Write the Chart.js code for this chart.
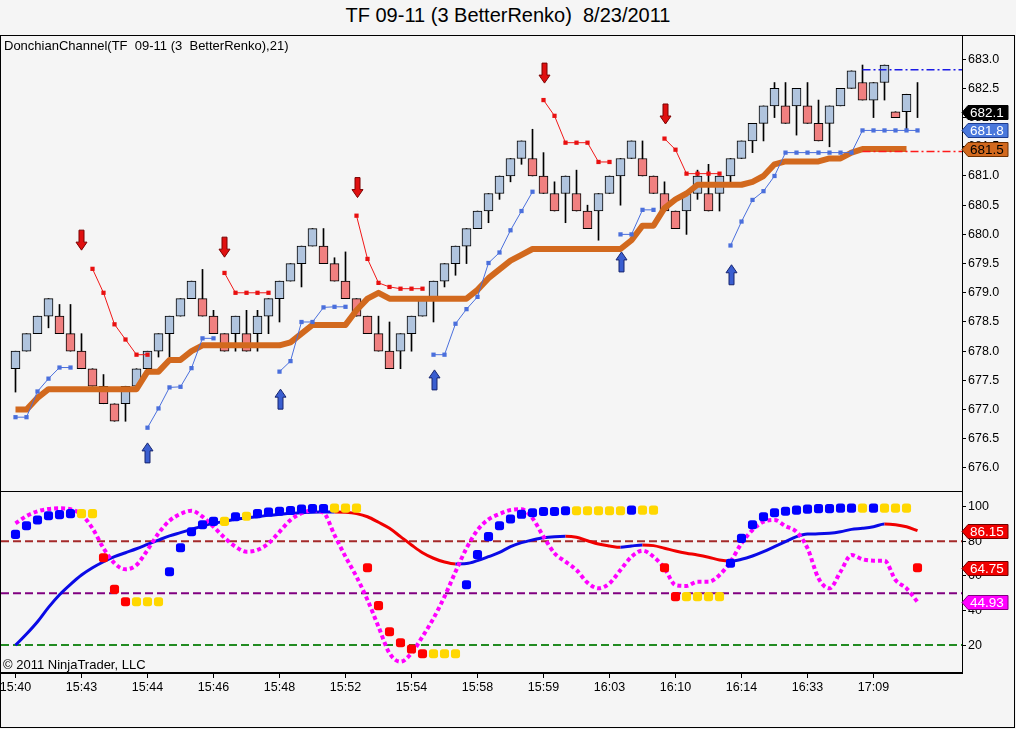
<!DOCTYPE html>
<html>
<head>
<meta charset="utf-8">
<script src="https://cdn.jsdelivr.net/npm/chart.js@4.4.1/dist/chart.umd.min.js"></script>
<style>
body { margin:0; background:#f5f5f5; width:1016px; height:729px; overflow:hidden; font-family:"Liberation Sans", Arial, sans-serif; }
#title { position:absolute; left:0; top:4px; width:1016px; text-align:center; font-size:20px; line-height:23px; white-space:pre; color:#000; }
#frame { position:absolute; left:0; top:35px; width:1015px; height:693px; box-sizing:border-box; border:1px solid #000; }
#upper { position:absolute; left:0; top:35px; }
#lower { position:absolute; left:0; top:492px; }
</style>
</head>
<body>
<div id="title">TF 09-11 (3 BetterRenko)  8/23/2011</div>
<div id="frame"></div>
<canvas id="upper" width="1016" height="458"></canvas>
<canvas id="lower" width="1016" height="237"></canvas>
<script>
// Etiquetas del eje de tiempo (una cada 6 ladrillos)
const timeLabels = ['15:40','15:43','15:44','15:46','15:48','15:52','15:54','15:58','15:59','16:03','16:10','16:14','16:33','17:09'];
const labelBars = [0,6,12,18,24,30,36,42,48,54,60,66,72,78];
const priceTicks = [676,676.5,677,677.5,678,678.5,679,679.5,680,680.5,681,681.5,682,682.5,683];
const oscTicks = [20,40,60,80,100];

// Ladrillos renko
const opens = [677.7,678.0,678.3,678.6,678.6,678.3,678.0,677.7,677.4,677.1, 677.1,677.4,677.7,678.0,678.3,678.6,678.9,678.9,678.6,678.3,
  678.3,678.3,678.3,678.6,678.9,679.2,679.5,679.8,679.8,679.5, 679.2,678.9,678.6,678.3,678.0,678.0,678.3,678.6,678.9,679.2,
  679.5,679.8,680.1,680.4,680.7,681.0,681.3,681.3,681.0,680.7, 680.7,680.7,680.4,680.4,680.7,681.0,681.3,681.3,681.0,680.7,
  680.4,680.4,680.7,680.7,680.7,681.0,681.3,681.6,681.9,682.2, 682.2,682.2,682.2,681.9,681.9,682.2,682.5,682.6,682.3,682.6,
  682.1,682.1,682.1];
const closes = [678.0,678.3,678.6,678.9,678.3,678.0,677.7,677.4,677.1,676.8, 677.4,677.7,678.0,678.3,678.6,678.9,679.2,678.6,678.3,678.0,
  678.6,678.0,678.6,678.9,679.2,679.5,679.8,680.1,679.5,679.2, 678.9,678.6,678.3,678.0,677.7,678.3,678.6,678.9,679.2,679.5,
  679.8,680.1,680.4,680.7,681.0,681.3,681.6,681.0,680.7,680.4, 681.0,680.4,680.1,680.7,681.0,681.3,681.6,681.0,680.7,680.4,
  680.1,680.7,681.0,680.4,681.0,681.3,681.6,681.9,682.2,682.5, 681.9,682.5,681.9,681.6,682.2,682.5,682.8,682.3,682.6,682.9,
  682.0,682.4,682.1];
const highs = [678.0,678.3,678.6,678.9,678.8,678.8,678.3,677.7,677.6,677.1, 677.4,677.7,678.0,678.3,678.6,678.9,679.2,679.4,678.7,678.3,
  678.6,678.7,678.7,678.9,679.2,679.5,679.8,680.1,680.1,679.6, 679.7,678.9,678.6,678.6,678.5,678.3,678.6,678.9,679.2,679.5,
  679.8,680.1,680.4,680.7,681.0,681.3,681.6,681.8,681.4,680.9, 681.0,681.1,680.5,680.7,681.0,681.3,681.6,681.6,681.0,680.9,
  680.4,680.7,681.1,681.2,681.0,681.3,681.6,681.9,682.2,682.6, 682.6,682.5,682.6,682.3,682.2,682.5,682.8,682.9,682.6,682.9,
  682.1,682.4,682.6];
const lows = [677.3,678.0,678.3,678.4,678.3,678.0,677.7,677.4,677.1,676.8, 676.8,677.4,677.7,677.9,677.9,678.6,678.9,678.6,678.3,678.0,
  678.0,678.0,678.0,678.3,678.5,679.2,679.1,679.8,679.5,679.2, 678.9,678.6,678.3,678.0,677.7,677.7,678.0,678.6,678.5,679.1,
  679.3,679.5,680.1,680.2,680.6,680.9,681.2,681.0,680.7,680.4, 680.2,680.4,680.1,679.9,680.7,680.5,681.3,681.0,680.7,680.4,
  680.1,680.0,680.6,680.4,680.4,680.9,681.3,681.4,681.6,682.0, 681.9,681.7,681.9,681.6,681.5,682.2,682.5,682.3,682.0,682.3,
  682.0,681.8,682.0];

// Canal Donchian (media) y stops
const donchianMid = [677.0,677.0,677.2,677.35,677.35,677.35,677.35,677.35,677.35,677.35, 677.35,677.35,677.65,677.65,677.85,677.85,678.0,678.1,678.1,678.1,
  678.1,678.1,678.1,678.1,678.1,678.15,678.3,678.45,678.45,678.45, 678.45,678.7,678.9,679.0,678.9,678.9,678.9,678.9,678.9,678.9,
  678.9,678.9,679.05,679.25,679.4,679.55,679.65,679.75,679.75,679.75, 679.75,679.75,679.75,679.75,679.75,679.75,679.9,680.15,680.15,680.45,
  680.6,680.7,680.85,680.85,680.85,680.85,680.85,680.9,681.0,681.2, 681.25,681.25,681.25,681.25,681.3,681.3,681.4,681.46,681.46,681.46,
  681.46,681.46,null];
const blueStop = [676.87,676.87,677.31,677.53,677.72,677.72,null,null,null,null, null,null,676.69,677.02,677.38,677.39,677.71,678.22,678.22,null,
  null,null,null,null,677.65,677.83,678.5,678.5,678.75,678.76, 678.76,null,null,null,null,null,null,null,677.94,677.94,
  678.47,678.72,678.93,679.51,679.69,680.07,680.4,680.73,null,null, null,null,null,null,null,680.0,680.0,680.42,680.42,null,
  null,null,null,null,null,679.81,680.22,680.59,680.74,681.0, 681.4,681.4,681.4,681.4,681.4,681.4,681.4,681.78,681.78,681.78,
  681.78,681.78,681.78];
const redStop = [null,null,null,null,null,null,null,679.41,679.0,678.46, 678.2,677.94,677.94,null,null,null,null,null,null,679.34,
  679.0,679.0,679.0,679.0,null,null,null,null,null,null, null,680.32,679.58,679.17,679.1,679.07,679.07,679.07,null,null,
  null,null,null,null,null,null,null,null,682.3,682.03, 681.57,681.57,681.57,681.24,681.24,null,null,null,null,681.64,
  681.45,681.04,681.04,681.04,681.04,null,null,null,null,null, null,null,null,null,null,null,null,null,null,null,
  null,null,null];
const projStartBar = 77;
const hiLevel = 682.82;
const loLevel = 681.42;

// Flechas de señal
const downArrowBars = [6,19,31,48,59];
const downArrowTips = [679.73,679.61,680.63,682.59,681.89];
const upArrowBars = [12,24,38,55,65];
const upArrowTips = [676.43,677.35,677.68,679.7,679.48];

// Panel inferior
const oscLine = [20.0,26.4,33.5,41.8,49.1,55.1,60.5,64.7,68.2,71.1, 73.4,75.7,78.2,80.7,83.1,85.0,86.9,88.8,90.4,91.5,
  92.7,93.5,94.2,95.0,95.6,96.2,96.5,96.8,96.9,97.0, 96.8,96.0,94.2,91.0,87.5,82.7,77.9,73.4,70.2,68.0,
  66.9,67.1,68.8,71.1,73.6,76.9,79.2,80.8,82.1,82.7, 82.9,82.3,80.3,78.4,77.3,76.5,77.3,77.9,77.5,76.0,
  74.4,73.1,72.1,70.8,69.2,68.6,69.6,71.5,74.0,76.9, 79.8,82.7,84.2,84.3,84.6,85.5,86.9,87.5,88.4,90.0,
  89.6,88.4,86.15];
const magentaLine = [90.4,94.6,97.3,98.7,99.1,98.5,95.4,87.5,76.0,67.3, 63.8,66.3,75.0,84.6,91.9,95.8,97.7,94.2,88.4,82.1,
  76.9,74.0,75.0,78.8,85.5,92.3,96.2,97.7,96.5,83.6, 71.1,59.5,46.1,30.6,15.3,10.4,15.3,24.9,35.5,48.0,
  62.4,76.0,86.5,92.7,95.8,98.1,98.5,93.3,82.7,73.1, 68.2,63.4,56.1,52.8,55.7,63.4,71.1,74.6,71.1,64.4,
  54.7,54.2,56.6,56.6,60.5,68.2,78.8,86.5,91.3,92.3, 88.8,85.5,76.0,58.6,52.8,62.4,72.1,69.6,68.8,68.8,
  57.6,52.8,44.93];
const dotValues = [84.0,89.0,92.3,94.8,95.4,96.0,96.0,96.0,70.5,52.2, 45.1,45.1,45.1,45.1,62.4,76.3,85.5,89.6,91.5,91.5,
  94.2,94.5,96.0,96.9,97.4,97.8,98.7,99.0,99.0,99.2, 99.2,99.2,64.7,42.8,27.7,21.4,17.7,15.0,15.0,15.0,
  15.0,54.9,72.3,82.7,89.0,92.9,95.6,96.5,97.2,97.2, 97.7,97.7,97.7,97.7,97.7,97.7,98.0,98.0,98.0,64.7,
  48.0,48.0,48.0,48.0,48.0,67.3,81.7,89.6,94.2,96.5, 97.4,98.0,98.6,98.9,98.9,99.2,99.2,99.2,99.2,99.2,
  99.2,99.2,64.75];
const dotColors = 'bbbbbbyyrrryyybbbbbybybbbbbbbyyyrrrrrryyybbbbbbbbbbyyyyybyyrryyyybbbbbbbbbbbbybyyyr'.split('');
const oscLevels = [80, 50, 20];

// ---- configuración ----
Chart.defaults.font.family = '"Liberation Sans", Arial, sans-serif';
Chart.defaults.font.size = 12.5;
Chart.defaults.color = '#000';

const xMin = -1.318, xMax = 86.045;
const pts = arr => arr.map((v, i) => ({x: i, y: v}));
const upColor = '#b0c4de', downColor = '#f08080';
const dotPalette = {b: '#0000ff', y: '#ffd700', r: '#ff0000'};

const rightAxis = (min, max, tickList, fmt) => ({
  type: 'linear', position: 'right', min: min, max: max,
  afterBuildTicks: s => { s.ticks = tickList.map(v => ({value: v})); },
  afterFit: s => { s.width = 54; s.paddingTop = 0; s.paddingBottom = 0; },
  ticks: { callback: fmt, padding: 2, font: {size: 12.5} },
  grid: { drawOnChartArea: false, tickLength: 4, color: '#000' },
  border: { color: '#000' }
});

const framePlugin = {
  id: 'frame',
  afterDraw(chart, args, opts) {
    const {ctx, chartArea: a} = chart;
    ctx.save();
    ctx.strokeStyle = '#000';
    ctx.lineWidth = 1;
    ctx.beginPath();
    if (opts.top) { ctx.moveTo(a.left - 1, a.top + 0.5); ctx.lineTo(a.right, a.top + 0.5); }
    ctx.moveTo(a.left - 0.5, a.top); ctx.lineTo(a.left - 0.5, a.bottom);
    ctx.moveTo(a.left - 1, a.bottom - 0.5); ctx.lineTo(a.right, a.bottom - 0.5);
    ctx.stroke();
    ctx.restore();
  }
};

const textPlugin = {
  id: 'texts',
  afterDraw(chart, args, opts) {
    const {ctx, chartArea: a} = chart;
    ctx.save();
    ctx.font = '13px "Liberation Sans", Arial, sans-serif';
    ctx.fillStyle = '#000';
    ctx.textBaseline = 'middle';
    ctx.textAlign = 'left';
    opts.items.forEach(t => {
      ctx.fillText(t.text, a.left + t.dx, t.fromBottom ? a.bottom - t.dy : a.top + t.dy);
    });
    ctx.restore();
  }
};

const flagPlugin = {
  id: 'flags',
  afterDraw(chart, args, opts) {
    const {ctx, chartArea: a} = chart;
    const y = chart.scales.y;
    ctx.save();
    opts.items.forEach(f => {
      const x0 = a.right, py = Math.round(y.getPixelForValue(f.value)) + 0.5;
      const h = 14, w = 46;
      ctx.beginPath();
      ctx.moveTo(x0, py);
      ctx.lineTo(x0 + 6, py - h / 2);
      ctx.lineTo(x0 + w, py - h / 2);
      ctx.lineTo(x0 + w, py + h / 2);
      ctx.lineTo(x0 + 6, py + h / 2);
      ctx.closePath();
      ctx.fillStyle = f.bg;
      ctx.fill();
      ctx.strokeStyle = f.edge;
      ctx.lineWidth = 1;
      ctx.stroke();
      ctx.fillStyle = f.fg;
      ctx.font = '13.5px "Liberation Sans", Arial, sans-serif';
      ctx.textBaseline = 'middle';
      ctx.textAlign = 'left';
      ctx.fillText(f.value.toFixed(f.digits), x0 + 8, py + 0.5);
    });
    ctx.restore();
  }
};

const arrowPlugin = {
  id: 'arrows',
  afterDatasetsDraw(chart) {
    const {ctx, scales: {x, y}} = chart;
    const draw = (bar, price, dir, fill, edge) => {
      const px = Math.round(x.getPixelForValue(bar)) + 0.5, py = y.getPixelForValue(price);
      ctx.beginPath();
      ctx.moveTo(px, py);
      ctx.lineTo(px - 5.5, py - dir * 8);
      ctx.lineTo(px - 2.5, py - dir * 8);
      ctx.lineTo(px - 2.5, py - dir * 20);
      ctx.lineTo(px + 2.5, py - dir * 20);
      ctx.lineTo(px + 2.5, py - dir * 8);
      ctx.lineTo(px + 5.5, py - dir * 8);
      ctx.closePath();
      ctx.fillStyle = fill;
      ctx.fill();
      ctx.strokeStyle = edge;
      ctx.lineWidth = 1;
      ctx.stroke();
    };
    ctx.save();
    downArrowBars.forEach((b, i) => draw(b, downArrowTips[i], 1, '#e01010', '#7a0000'));
    upArrowBars.forEach((b, i) => draw(b, upArrowTips[i], -1, '#3a5ed0', '#16246e'));
    ctx.restore();
  }
};

// ---- panel superior ----
new Chart(document.getElementById('upper'), {
  type: 'bar',
  data: {
    datasets: [
      { type: 'line', data: [{x: projStartBar, y: hiLevel}, {x: xMax, y: hiLevel}], borderColor: '#1a1ae6', borderWidth: 1.5,
        borderDash: [8, 3, 2, 3], pointRadius: 0 },
      { type: 'line', data: [{x: projStartBar, y: loLevel}, {x: xMax, y: loLevel}], borderColor: '#ff1a1a', borderWidth: 1.5,
        borderDash: [8, 3, 2, 3], pointRadius: 0 },
      { type: 'line', data: pts(blueStop), borderColor: '#4a6fdc', borderWidth: 1, pointStyle: 'rect', pointRadius: 3,
        pointBackgroundColor: '#4a6fdc', pointBorderWidth: 0, spanGaps: false },
      { type: 'line', data: pts(redStop), borderColor: '#f01818', borderWidth: 1, pointStyle: 'rect', pointRadius: 3,
        pointBackgroundColor: '#e81010', pointBorderWidth: 0, spanGaps: false },
      { type: 'line', data: pts(donchianMid), borderColor: '#d2691e', borderWidth: 6, pointRadius: 0, borderJoinStyle: 'round' },
      { data: opens.map((o, i) => ({x: i, y: [o, closes[i]]})),
        backgroundColor: opens.map((o, i) => closes[i] >= o ? upColor : downColor),
        borderColor: '#000', borderWidth: 1, borderSkipped: false, barThickness: 9, grouped: false },
      { data: lows.map((l, i) => ({x: i, y: [l, highs[i]]})), backgroundColor: '#000', borderWidth: 0,
        barThickness: 1, grouped: false }
    ]
  },
  options: {
    responsive: false,
    animation: false,
    layout: { autoPadding: false, padding: {left: 1, right: 0, top: 0, bottom: 1} },
    plugins: {
      legend: { display: false },
      tooltip: { enabled: false },
      frame: { top: true },
      texts: { items: [{text: 'DonchianChannel(TF  09-11 (3  BetterRenko),21)', dx: 3, dy: 11}] },
      flags: { items: [
        { value: closes[closes.length - 1], digits: 1, bg: '#000', fg: '#fff', edge: '#000' },
        { value: blueStop[blueStop.length - 1], digits: 1, bg: '#4a78dc', fg: '#fff', edge: '#1c3a8c' },
        { value: donchianMid[donchianMid.length - 2], digits: 1, bg: '#d2691e', fg: '#000', edge: '#6e3000' }
      ] }
    },
    scales: {
      x: { type: 'linear', min: xMin, max: xMax, offset: false, display: false },
      y: rightAxis(675.589, 683.414, priceTicks, v => v.toFixed(1))
    }
  },
  plugins: [framePlugin, textPlugin, flagPlugin, arrowPlugin]
});

// ---- panel inferior ----
const levelColors = ['#a52a2a', '#800080', '#228b22'];
new Chart(document.getElementById('lower'), {
  type: 'line',
  data: {
    datasets: [
      { data: pts(dotValues), showLine: false, pointStyle: 'rectRounded', pointRadius: 5.3, pointBorderWidth: 0,
        pointBackgroundColor: dotColors.map(c => dotPalette[c]) },
      { data: pts(magentaLine), borderColor: '#ff00ff', borderWidth: 4, borderDash: [4, 3], borderCapStyle: 'butt',
        pointRadius: 0, cubicInterpolationMode: 'monotone' },
      { data: pts(oscLine), borderWidth: 3, pointRadius: 0, cubicInterpolationMode: 'monotone', borderColor: '#0a0ae6',
        segment: { borderColor: c => c.p1.parsed.y >= c.p0.parsed.y ? '#0a0ae6' : '#f00000' } },
      ...oscLevels.map((lv, k) => ({ data: [{x: xMin, y: lv}, {x: xMax, y: lv}], borderColor: levelColors[k],
        borderWidth: 2, borderDash: [8, 4], pointRadius: 0 }))
    ]
  },
  options: {
    responsive: false,
    animation: false,
    layout: { autoPadding: false, padding: {left: 1, right: 0, top: 0, bottom: 0} },
    plugins: {
      legend: { display: false },
      tooltip: { enabled: false },
      frame: { top: false },
      texts: { items: [{text: '\u00a9 2011 NinjaTrader, LLC', dx: 2, dy: 8, fromBottom: true}] },
      flags: { items: [
        { value: oscLine[oscLine.length - 1], digits: 2, bg: '#f00000', fg: '#fff', edge: '#700000' },
        { value: dotValues[dotValues.length - 1], digits: 2, bg: '#f00000', fg: '#fff', edge: '#700000' },
        { value: magentaLine[magentaLine.length - 1], digits: 2, bg: '#ff00ff', fg: '#fff', edge: '#800080' }
      ] }
    },
    scales: {
      x: { type: 'linear', min: xMin, max: xMax, offset: false,
        afterBuildTicks: s => { s.ticks = labelBars.map(v => ({value: v})); },
        afterFit: s => { s.height = 56; s.paddingLeft = 0; s.paddingRight = 0; },
        ticks: { callback: (v, i) => timeLabels[i], autoSkip: false, maxRotation: 0, padding: 2, font: {size: 12.5} },
        grid: { drawOnChartArea: false, tickLength: 5, color: '#000' },
        border: { color: '#000' } },
      y: rightAxis(3.87, 108.5, oscTicks, v => String(v))
    }
  },
  plugins: [framePlugin, textPlugin, flagPlugin]
});
</script>
</body>
</html>
